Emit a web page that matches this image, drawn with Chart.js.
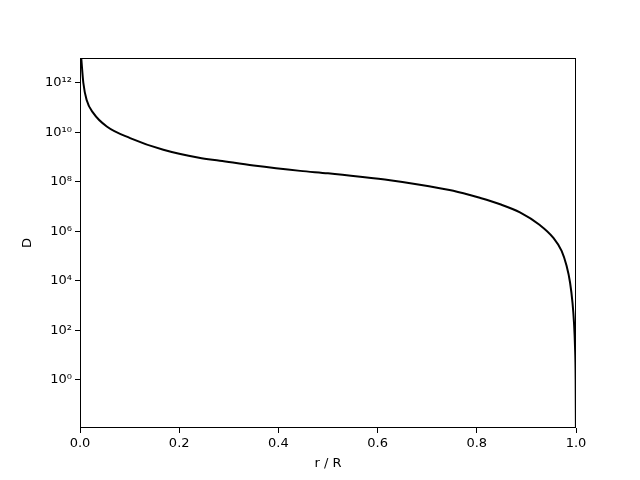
<!DOCTYPE html>
<html>
<head>
<meta charset="utf-8">
<script src="https://cdn.jsdelivr.net/npm/chart.js@4/dist/chart.umd.min.js"></script>
<style>
  body { margin: 0; background: #fff; }
  #wrap { width: 640px; height: 480px; }
</style>
</head>
<body>
<div id="wrap"><canvas id="chart"></canvas></div>
<script>
// radius fraction r / R
const rValues = [0.0025, 0.0067, 0.0134, 0.027, 0.054, 0.101, 0.168, 0.24, 0.282, 0.35,
  0.444, 0.5, 0.565, 0.625, 0.685, 0.745, 0.786, 0.806, 0.847, 0.887,
  0.927, 0.954, 0.971, 0.981, 0.988, 0.993, 0.996, 0.998, 0.9993, 0.9998];
// D values
const dValues = [1e13, 1e12, 2.0e11, 5.9e10, 1.7e10, 5.8e9, 1.95e9, 9.3e8, 7.1e8, 4.5e8,
  2.75e8, 2.2e8, 1.6e8, 1.15e8, 7.6e7, 4.6e7, 2.9e7, 2.25e7, 1.23e7, 5.75e6,
  1.78e6, 5.5e5, 1.6e5, 4.0e4, 8.5e3, 1.26e3, 195, 22, 1, 1.1e-2];
// tick labels
const xTicks = [0, 0.2, 0.4, 0.6, 0.8, 1.0];
const yExponents = [0, 2, 4, 6, 8, 10, 12];

const sup = { '0': '\u2070', '1': '\u00b9', '2': '\u00b2', '3': '\u00b3', '4': '\u2074',
  '5': '\u2075', '6': '\u2076', '7': '\u2077', '8': '\u2078', '9': '\u2079', '-': '\u207b' };
const toSup = n => String(n).split('').map(c => sup[c]).join('');

const font = { family: 'DejaVu Sans', size: 13 };

// draw the full axes box like matplotlib
const frame = {
  id: 'frame',
  afterDraw(chart) {
    const { ctx, chartArea: a } = chart;
    ctx.save();
    ctx.strokeStyle = '#000';
    ctx.lineWidth = 1;
    ctx.strokeRect(a.left + 0.5, a.top + 0.5, a.right - a.left - 1, a.bottom - a.top - 1);
    ctx.restore();
  }
};

new Chart(document.getElementById('chart'), {
  type: 'line',
  data: {
    datasets: [{
      data: rValues.map((r, i) => ({ x: r, y: dValues[i] })),
      borderColor: '#000',
      borderWidth: 2,
      pointRadius: 0,
      cubicInterpolationMode: 'monotone',
      fill: false
    }]
  },
  options: {
    responsive: true,
    maintainAspectRatio: false,
    animation: false,
    layout: { padding: { top: 58, right: 64, left: 0, bottom: 0 } },
    plugins: { legend: { display: false }, tooltip: { enabled: false } },
    scales: {
      x: {
        type: 'linear',
        min: 0,
        max: 1,
        afterBuildTicks: s => { s.ticks = xTicks.map(v => ({ value: v })); },
        afterFit: s => { s.height = 52; },
        border: { display: false },
        grid: { drawOnChartArea: false, drawTicks: true, tickLength: 5, color: '#000' },
        ticks: { color: '#000', font, padding: 3, maxRotation: 0, callback: v => v.toFixed(1) },
        title: { display: true, text: 'r / R', color: '#000', font, padding: { top: 0, bottom: 9 } }
      },
      y: {
        type: 'logarithmic',
        min: Math.pow(10, -1.95),
        max: 1e13,
        afterBuildTicks: s => { s.ticks = yExponents.map(e => ({ value: Math.pow(10, e) })); },
        afterFit: s => { s.width = 80; },
        border: { display: false },
        grid: { drawOnChartArea: false, drawTicks: true, tickLength: 5, color: '#000' },
        ticks: {
          color: '#000', font, padding: 3,
          callback: v => '10' + toSup(Math.round(Math.log10(v)))
        },
        title: { display: true, text: 'D', color: '#000', font, padding: { top: 20, bottom: 0 } }
      }
    }
  },
  plugins: [frame]
});
</script>
</body>
</html>
